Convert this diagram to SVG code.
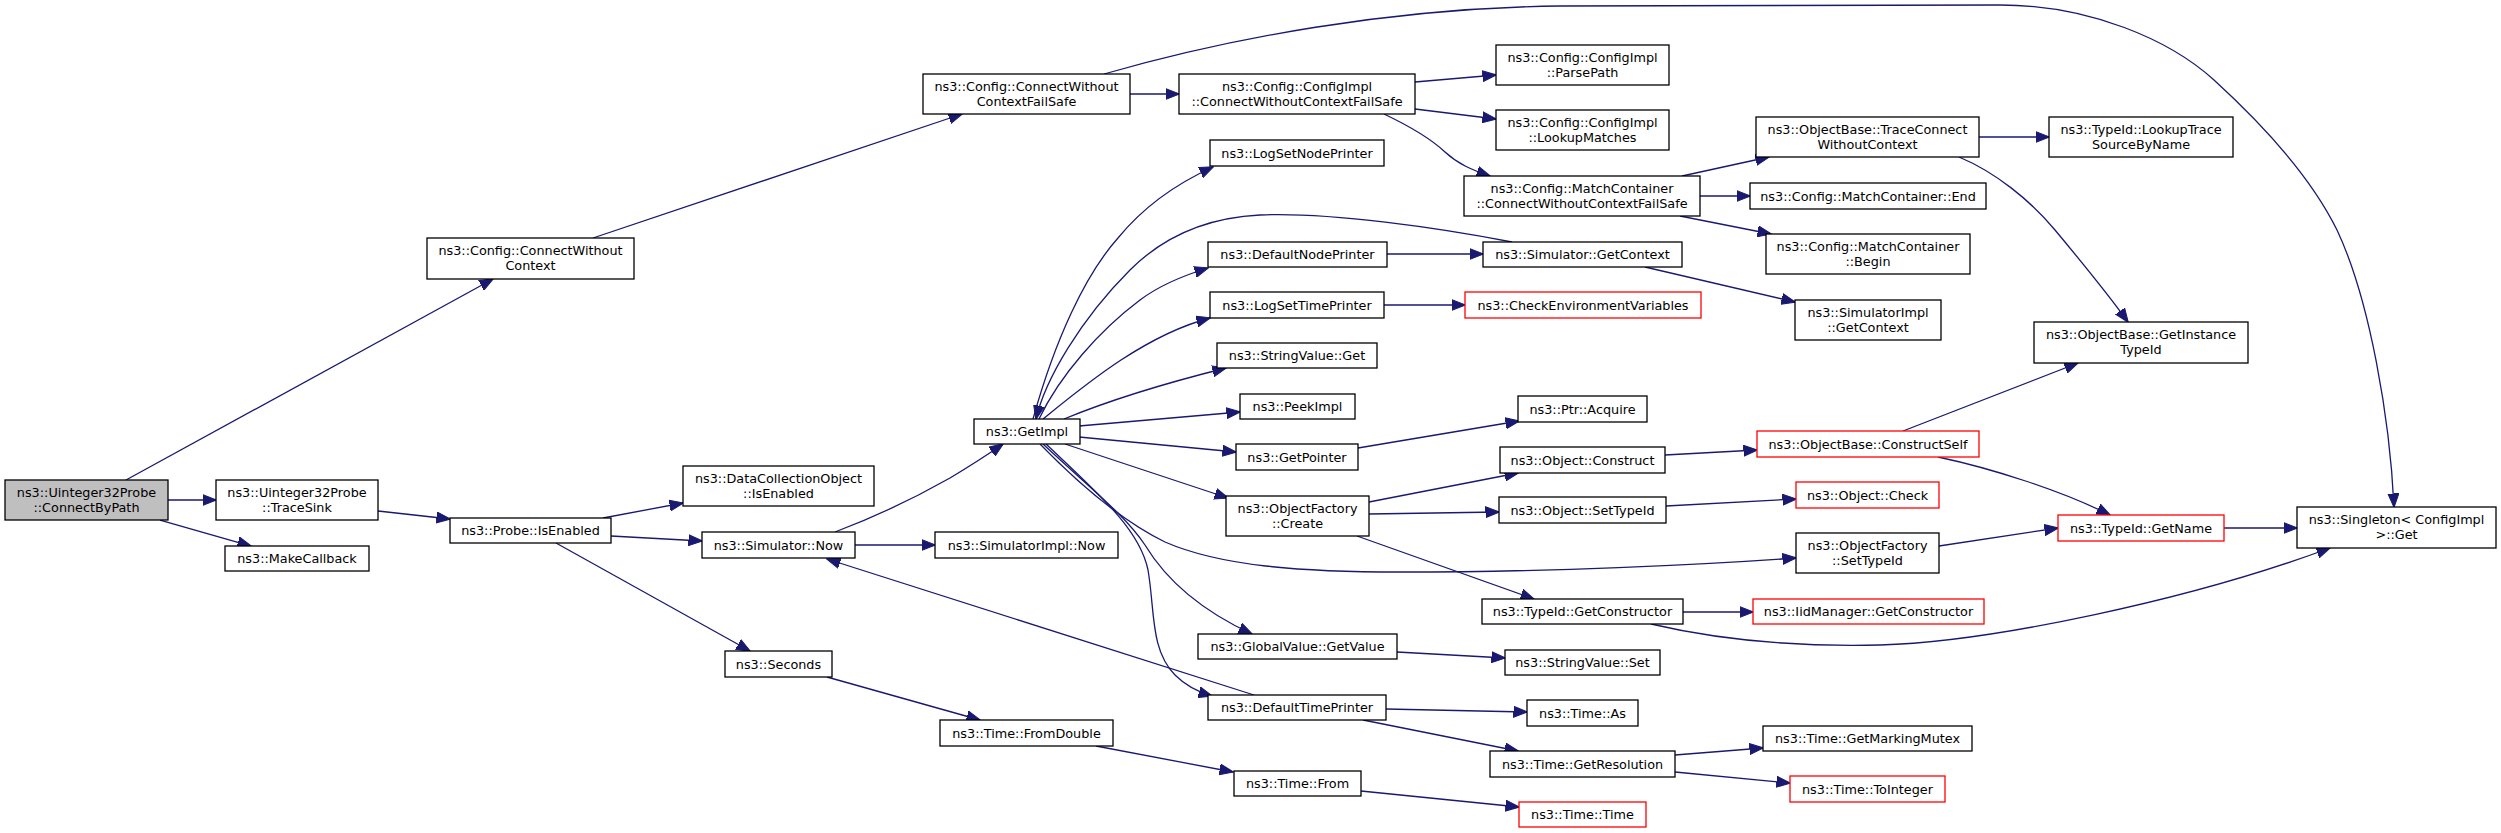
<svg xmlns="http://www.w3.org/2000/svg" width="2501" height="833" viewBox="0 0 2501 833">
<style>
.n rect{fill:#ffffff;stroke:#000000;stroke-width:1.3}
.n.r rect{stroke:#ff0000}
.n.root rect{fill:#bfbfbf}
.n text{font-family:"DejaVu Sans","Liberation Sans",sans-serif;font-size:12.8px;text-anchor:middle;fill:#000000}
#edges path{fill:none;stroke:#191970;stroke-width:1.3;marker-end:url(#ah)}
</style>
<defs>
<marker id="ah" markerUnits="userSpaceOnUse" markerWidth="15" markerHeight="12" refX="13.5" refY="5.5" orient="auto" viewBox="0 0 15 11">
<path d="M0,0 L14,5.5 L0,11 z" fill="#191970" stroke="#191970" stroke-width="1"/>
</marker>
</defs>
<rect width="2501" height="833" fill="#ffffff"/>
<g id="edges">
<path d="M126,480 L493,279"/>
<path d="M168,500 L216,500"/>
<path d="M160,520 L251,546"/>
<path d="M378,511 L450,519"/>
<path d="M593,238 L962,114"/>
<path d="M1130,94 L1179,94"/>
<path d="M1104,74 C1230,38 1390,8 1560,6 L2000,5 C2090,5 2170,40 2214,80 C2260,122 2310,175 2337,230 C2370,300 2390,420 2394,507"/>
<path d="M1415,82 L1496,75"/>
<path d="M1415,109 L1496,119"/>
<path d="M1384,114 C1405,124 1428,136 1445,152 C1458,164 1472,170 1490,176"/>
<path d="M1682,176 L1769,157"/>
<path d="M1700,196 L1750,196"/>
<path d="M1680,216 L1771,234"/>
<path d="M1979,137 L2049,137"/>
<path d="M1959,157 C1995,172 2030,200 2055,230 C2080,260 2105,290 2128,322"/>
<path d="M1033,419 C1055,340 1085,275 1118,238 C1145,205 1180,182 1213,167"/>
<path d="M1512,242 C1440,228 1330,212 1260,215 C1200,218 1160,240 1130,270 C1080,320 1045,380 1036,419"/>
<path d="M1039,419 C1060,375 1100,330 1140,300 C1160,285 1185,275 1208,268"/>
<path d="M1387,254 L1483,254"/>
<path d="M1043,419 C1085,385 1145,335 1210,318"/>
<path d="M1384,305 L1465,305"/>
<path d="M1064,419 C1110,400 1170,382 1226,368"/>
<path d="M1079,426 L1240,412"/>
<path d="M1079,437 L1236,452"/>
<path d="M1358,448 L1519,421"/>
<path d="M1065,444 L1228,498"/>
<path d="M1369,502 L1518,473"/>
<path d="M1369,514 L1499,512"/>
<path d="M1357,536 L1534,599"/>
<path d="M1040,444 C1075,480 1120,520 1165,542 C1220,566 1300,572 1400,572 C1550,572 1700,565 1796,558"/>
<path d="M1043,444 C1090,488 1125,515 1145,545 C1165,578 1200,610 1252,634"/>
<path d="M1046,444 C1100,495 1140,530 1148,570 C1155,610 1150,650 1175,675 C1185,685 1198,692 1212,696"/>
<path d="M1254,695 L827,559"/>
<path d="M603,518 L683,503"/>
<path d="M611,536 L702,541"/>
<path d="M556,543 L750,651"/>
<path d="M835,532 C880,515 920,495 950,478 C970,466 990,453 1003,444"/>
<path d="M855,545 L935,545"/>
<path d="M827,677 L980,720"/>
<path d="M1096,746 L1233,772"/>
<path d="M1361,791 L1519,807"/>
<path d="M1397,652 L1505,658"/>
<path d="M1386,709 L1527,712"/>
<path d="M1363,720 L1518,751"/>
<path d="M1675,755 L1763,748"/>
<path d="M1675,772 L1790,783"/>
<path d="M1683,612 L1753,612"/>
<path d="M1651,624 C1715,639 1795,647 1880,645 C1990,642 2190,600 2330,548"/>
<path d="M1939,546 L2058,528"/>
<path d="M2224,528 L2297,528"/>
<path d="M1903,431 L2078,363"/>
<path d="M1938,457 C1990,468 2060,490 2110,515"/>
<path d="M1665,455 L1757,450"/>
<path d="M1666,506 L1796,499"/>
<path d="M1645,267 L1795,302"/>
</g>
<g id="n_root" class="n root"><rect x="5" y="480" width="163" height="40"/><text x="86.5" y="496.5">ns3::Uinteger32Probe</text><text x="86.5" y="511.5">::ConnectByPath</text></g>
<g id="n_cwc" class="n"><rect x="427" y="238" width="207" height="41"/><text x="530.5" y="255">ns3::Config::ConnectWithout</text><text x="530.5" y="270">Context</text></g>
<g id="n_tracesink" class="n"><rect x="216" y="480" width="162" height="40"/><text x="297" y="496.5">ns3::Uinteger32Probe</text><text x="297" y="511.5">::TraceSink</text></g>
<g id="n_makecb" class="n"><rect x="225" y="546" width="144" height="25"/><text x="297" y="563">ns3::MakeCallback</text></g>
<g id="n_probe" class="n"><rect x="450" y="518" width="161" height="25"/><text x="530.5" y="535">ns3::Probe::IsEnabled</text></g>
<g id="n_cwcfs" class="n"><rect x="923" y="74" width="207" height="40"/><text x="1026.5" y="90.5">ns3::Config::ConnectWithout</text><text x="1026.5" y="105.5">ContextFailSafe</text></g>
<g id="n_cicwcfs" class="n"><rect x="1179" y="74" width="236" height="40"/><text x="1297" y="90.5">ns3::Config::ConfigImpl</text><text x="1297" y="105.5">::ConnectWithoutContextFailSafe</text></g>
<g id="n_parse" class="n"><rect x="1496" y="45" width="173" height="40"/><text x="1582.5" y="61.5">ns3::Config::ConfigImpl</text><text x="1582.5" y="76.5">::ParsePath</text></g>
<g id="n_lookup" class="n"><rect x="1496" y="110" width="173" height="40"/><text x="1582.5" y="126.5">ns3::Config::ConfigImpl</text><text x="1582.5" y="141.5">::LookupMatches</text></g>
<g id="n_mccwcfs" class="n"><rect x="1464" y="176" width="236" height="40"/><text x="1582" y="192.5">ns3::Config::MatchContainer</text><text x="1582" y="207.5">::ConnectWithoutContextFailSafe</text></g>
<g id="n_tracecon" class="n"><rect x="1756" y="117" width="223" height="40"/><text x="1867.5" y="133.5">ns3::ObjectBase::TraceConnect</text><text x="1867.5" y="148.5">WithoutContext</text></g>
<g id="n_end" class="n"><rect x="1750" y="183" width="236" height="26"/><text x="1868" y="200.5">ns3::Config::MatchContainer::End</text></g>
<g id="n_begin" class="n"><rect x="1766" y="234" width="204" height="40"/><text x="1868" y="250.5">ns3::Config::MatchContainer</text><text x="1868" y="265.5">::Begin</text></g>
<g id="n_lookuptrace" class="n"><rect x="2049" y="117" width="184" height="40"/><text x="2141" y="133.5">ns3::TypeId::LookupTrace</text><text x="2141" y="148.5">SourceByName</text></g>
<g id="n_getinst" class="n"><rect x="2034" y="322" width="214" height="41"/><text x="2141" y="339">ns3::ObjectBase::GetInstance</text><text x="2141" y="354">TypeId</text></g>
<g id="n_logsetnode" class="n"><rect x="1210" y="140" width="174" height="26"/><text x="1297" y="157.5">ns3::LogSetNodePrinter</text></g>
<g id="n_defnode" class="n"><rect x="1208" y="242" width="179" height="25"/><text x="1297.5" y="259">ns3::DefaultNodePrinter</text></g>
<g id="n_getctx" class="n"><rect x="1483" y="242" width="199" height="25"/><text x="1582.5" y="259">ns3::Simulator::GetContext</text></g>
<g id="n_logsettime" class="n"><rect x="1210" y="292" width="174" height="26"/><text x="1297" y="309.5">ns3::LogSetTimePrinter</text></g>
<g id="n_checkenv" class="n r"><rect x="1465" y="292" width="236" height="26"/><text x="1583" y="309.5">ns3::CheckEnvironmentVariables</text></g>
<g id="n_simimplctx" class="n"><rect x="1795" y="300" width="146" height="40"/><text x="1868" y="316.5">ns3::SimulatorImpl</text><text x="1868" y="331.5">::GetContext</text></g>
<g id="n_strget" class="n"><rect x="1217" y="343" width="160" height="25"/><text x="1297" y="360">ns3::StringValue::Get</text></g>
<g id="n_peek" class="n"><rect x="1240" y="394" width="115" height="25"/><text x="1297.5" y="411">ns3::PeekImpl</text></g>
<g id="n_acquire" class="n"><rect x="1518" y="396" width="129" height="26"/><text x="1582.5" y="413.5">ns3::Ptr::Acquire</text></g>
<g id="n_getimpl" class="n"><rect x="974" y="419" width="106" height="25"/><text x="1027" y="436">ns3::GetImpl</text></g>
<g id="n_getptr" class="n"><rect x="1236" y="444" width="122" height="26"/><text x="1297" y="461.5">ns3::GetPointer</text></g>
<g id="n_objconstruct" class="n"><rect x="1500" y="447" width="165" height="26"/><text x="1582.5" y="464.5">ns3::Object::Construct</text></g>
<g id="n_constructself" class="n r"><rect x="1757" y="431" width="222" height="26"/><text x="1868" y="448.5">ns3::ObjectBase::ConstructSelf</text></g>
<g id="n_ofcreate" class="n"><rect x="1226" y="496" width="143" height="40"/><text x="1297.5" y="512.5">ns3::ObjectFactory</text><text x="1297.5" y="527.5">::Create</text></g>
<g id="n_objsettype" class="n"><rect x="1499" y="497" width="167" height="26"/><text x="1582.5" y="514.5">ns3::Object::SetTypeId</text></g>
<g id="n_objcheck" class="n r"><rect x="1796" y="482" width="143" height="26"/><text x="1867.5" y="499.5">ns3::Object::Check</text></g>
<g id="n_ofsettype" class="n"><rect x="1796" y="533" width="143" height="40"/><text x="1867.5" y="549.5">ns3::ObjectFactory</text><text x="1867.5" y="564.5">::SetTypeId</text></g>
<g id="n_getname" class="n r"><rect x="2058" y="515" width="166" height="26"/><text x="2141" y="532.5">ns3::TypeId::GetName</text></g>
<g id="n_singleton" class="n"><rect x="2297" y="507" width="199" height="41"/><text x="2396.5" y="524">ns3::Singleton&lt; ConfigImpl</text><text x="2396.5" y="539">&gt;::Get</text></g>
<g id="n_dco" class="n"><rect x="683" y="466" width="191" height="40"/><text x="778.5" y="482.5">ns3::DataCollectionObject</text><text x="778.5" y="497.5">::IsEnabled</text></g>
<g id="n_simnow" class="n"><rect x="702" y="532" width="153" height="26"/><text x="778.5" y="549.5">ns3::Simulator::Now</text></g>
<g id="n_simimplnow" class="n"><rect x="935" y="532" width="183" height="26"/><text x="1026.5" y="549.5">ns3::SimulatorImpl::Now</text></g>
<g id="n_getctor" class="n"><rect x="1482" y="599" width="201" height="25"/><text x="1582.5" y="616">ns3::TypeId::GetConstructor</text></g>
<g id="n_iidctor" class="n r"><rect x="1753" y="599" width="231" height="25"/><text x="1868.5" y="616">ns3::IidManager::GetConstructor</text></g>
<g id="n_seconds" class="n"><rect x="725" y="651" width="107" height="26"/><text x="778.5" y="668.5">ns3::Seconds</text></g>
<g id="n_gvget" class="n"><rect x="1198" y="634" width="199" height="25"/><text x="1297.5" y="651">ns3::GlobalValue::GetValue</text></g>
<g id="n_strset" class="n"><rect x="1505" y="650" width="155" height="25"/><text x="1582.5" y="667">ns3::StringValue::Set</text></g>
<g id="n_deftime" class="n"><rect x="1208" y="695" width="178" height="25"/><text x="1297" y="712">ns3::DefaultTimePrinter</text></g>
<g id="n_timeas" class="n"><rect x="1527" y="700" width="111" height="26"/><text x="1582.5" y="717.5">ns3::Time::As</text></g>
<g id="n_fromdouble" class="n"><rect x="940" y="720" width="173" height="26"/><text x="1026.5" y="737.5">ns3::Time::FromDouble</text></g>
<g id="n_markmutex" class="n"><rect x="1763" y="726" width="209" height="25"/><text x="1867.5" y="743">ns3::Time::GetMarkingMutex</text></g>
<g id="n_getres" class="n"><rect x="1490" y="751" width="185" height="26"/><text x="1582.5" y="768.5">ns3::Time::GetResolution</text></g>
<g id="n_from" class="n"><rect x="1234" y="771" width="127" height="25"/><text x="1297.5" y="788">ns3::Time::From</text></g>
<g id="n_tointeger" class="n r"><rect x="1790" y="776" width="155" height="26"/><text x="1867.5" y="793.5">ns3::Time::ToInteger</text></g>
<g id="n_timetime" class="n r"><rect x="1519" y="802" width="127" height="25"/><text x="1582.5" y="819">ns3::Time::Time</text></g>
</svg>
